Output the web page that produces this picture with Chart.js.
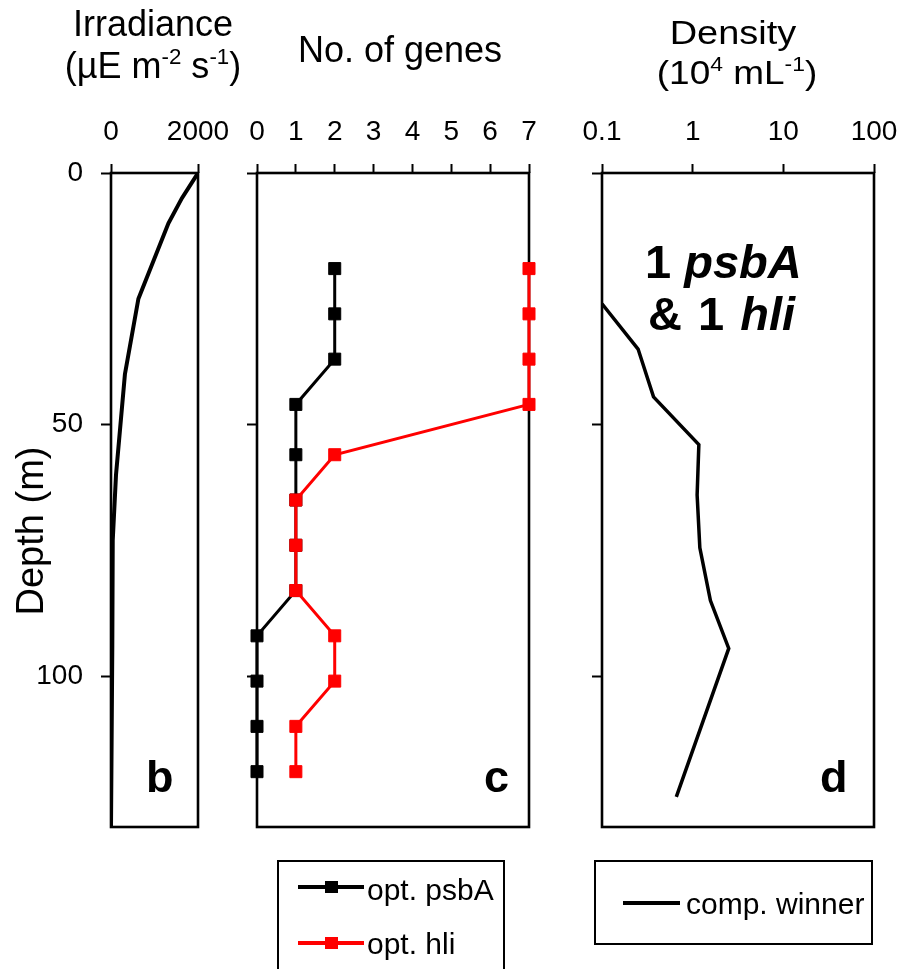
<!DOCTYPE html>
<html>
<head>
<meta charset="utf-8">
<script src="https://cdn.jsdelivr.net/npm/chart.js@4.4.0/dist/chart.umd.min.js"></script>
<style>
body{margin:0;background:#fff;}
#wrap{position:relative;width:907px;height:969px;overflow:hidden;background:#fff;
  font-family:"Liberation Sans",Arial,sans-serif;color:#000;}
#wrap canvas{position:absolute;left:0;top:0;}
.t{position:absolute;white-space:nowrap;line-height:1;}
.c{text-align:center;width:300px;}
sup{font-size:0.62em;position:relative;top:-0.62em;vertical-align:baseline;line-height:0;}
.lbl{font-weight:bold;font-size:45px;}
.lgbox{position:absolute;border:2px solid #000;box-sizing:border-box;}
.sample{position:absolute;height:4px;}
.sq{position:absolute;width:13px;height:12px;}
</style>
</head>
<body>
<div id="wrap">
  <canvas id="cb" width="907" height="969"></canvas>
  <canvas id="cc" width="907" height="969"></canvas>
  <canvas id="cd" width="915" height="969"></canvas>

  <div class="t c" style="left:3px;top:6px;font-size:36px;">Irradiance</div>
  <div class="t c" style="left:3px;top:48px;font-size:36px;">(&micro;E m<sup>-2</sup> s<sup>-1</sup>)</div>
  <div class="t c" style="left:250px;top:32px;font-size:36px;">No. of genes</div>
  <div class="t c" style="left:583px;top:16px;font-size:33px;transform:scaleX(1.15);">Density</div>
  <div class="t c" style="left:587px;top:56px;font-size:33px;transform:scaleX(1.12);">(10<sup>4</sup> mL<sup>-1</sup>)</div>
  <div class="t c" style="left:-120px;top:512px;font-size:38px;transform:rotate(-90deg);">Depth (m)</div>

  <div class="t lbl" style="left:645px;top:238px;font-size:47px;">1 <i>psbA</i></div>
  <div class="t lbl" style="left:648px;top:290px;font-size:47px;word-spacing:3px;">&amp; 1 <i>hli</i></div>
  <div class="t lbl" style="left:146px;top:754px;">b</div>
  <div class="t lbl" style="left:484px;top:754px;">c</div>
  <div class="t lbl" style="left:820px;top:754px;">d</div>

  <div class="lgbox" style="left:277px;top:860px;width:228px;height:130px;"></div>
  <div class="lgbox" style="left:594px;top:860px;width:279px;height:85px;"></div>
  <div id="legend"></div>
</div>

<script>
// depth axis (m), shared by all three panels
var depthTicks = [0, 50, 100];
var depthMax = 130;

// panel b: irradiance profile
var irrDepth = [0, 5, 10, 25, 40, 60, 73, 94, 130];
var irradiance = [2000, 1630, 1320, 630, 320, 115, 40, 30, 0];
var irrTicks = [0, 2000];

// panel c: number of genes
var geneDepth = [19, 28, 37, 46, 56, 65, 74, 83, 92, 101, 110, 119];
var psbA = [2, 2, 2, 1, 1, 1, 1, 1, 0, 0, 0, 0];
var hli = [7, 7, 7, 7, 2, 1, 1, 1, 2, 2, 1, 1];
var geneTicks = [0, 1, 2, 3, 4, 5, 6, 7];

// panel d: density of competition winner (10^4 per mL)
var densDepth = [26, 35, 44.5, 54, 64, 74.5, 85, 94.5, 124];
var density = [0.1, 0.25, 0.37, 1.17, 1.12, 1.2, 1.57, 2.5, 0.66];
var densTicks = [0.1, 1, 10, 100];

var TOP = 173, BOTTOM = 969 - 827;

function pts(xs, ys){
	var out = [];
	for (var i in ys) out.push({x: xs[i], y: ys[i]});
	return out;
}

var frame = {
	id: 'frame',
	beforeDatasetsDraw: function(chart){
		var a = chart.chartArea, ctx = chart.ctx;
		ctx.save();
		ctx.lineWidth = 2.6;
		ctx.strokeStyle = '#000';
		ctx.strokeRect(a.left, a.top, a.right - a.left, a.bottom - a.top);
		ctx.restore();
	}
};

function xAxis(type, min, max, ticks){
	return {
		type: type, position: 'top', min: min, max: max,
		afterFit: function(s){ s.height = TOP; },
		afterBuildTicks: function(s){ s.ticks = ticks.map(function(v){ return {value: v}; }); },
		border: {display: false},
		grid: {drawOnChartArea: false, drawTicks: true, tickLength: 9, tickWidth: 2, tickColor: '#000'},
		ticks: {color: '#000', font: {size: 28}, padding: 15, maxRotation: 0, autoSkip: false,
			callback: function(v){ return String(v); }}
	};
}

function yAxis(width, labels){
	return {
		type: 'linear', reverse: true, min: 0, max: depthMax,
		afterFit: function(s){ s.width = width; },
		afterBuildTicks: function(s){ s.ticks = depthTicks.map(function(v){ return {value: v}; }); },
		border: {display: false},
		grid: {drawOnChartArea: false, drawTicks: true, tickLength: 10, tickWidth: 2, tickColor: '#000'},
		ticks: {display: labels, color: '#000', font: {size: 28}, padding: 18,
			callback: function(v){ return String(v); }}
	};
}

function makeChart(id, datasets, x, y, padLeft, padRight){
	return new Chart(document.getElementById(id), {
		type: 'line',
		data: {datasets: datasets},
		options: {
			responsive: false, animation: false, indexAxis: 'y',
			layout: {padding: {left: padLeft, right: padRight, top: 0, bottom: BOTTOM}},
			plugins: {legend: {display: false}, tooltip: {enabled: false}},
			scales: {x: x, y: y}
		},
		plugins: [frame]
	});
}

Chart.defaults.font.family = '"Liberation Sans", Arial, sans-serif';

makeChart('cb', [{
	label: 'Irradiance', data: pts(irradiance, irrDepth),
	borderColor: '#000', borderWidth: 4, pointRadius: 0, tension: 0
}], xAxis('linear', 0, 2000, irrTicks), yAxis(111, true), 0, 907 - 198);

var geneSets = [
	{label: 'opt. psbA', data: pts(psbA, geneDepth), color: '#000000', order: 1},
	{label: 'opt. hli', data: pts(hli, geneDepth), color: '#ff0000', order: 0}
];
makeChart('cc', geneSets.map(function(d){
	return {label: d.label, data: d.data, order: d.order, borderColor: d.color, backgroundColor: d.color,
		borderWidth: 3, pointStyle: 'rect', pointRadius: 8.5, pointBorderWidth: 1,
		pointBorderColor: d.color, pointBackgroundColor: d.color, clip: false, tension: 0};
}), xAxis('linear', 0, 7, geneTicks), yAxis(47, false), 210, 907 - 529);

// canvas d is a little wider than the page so the "100" label fits without shrinking the plot
var densSets = [{label: 'comp. winner', data: pts(density, densDepth), color: '#000000'}];
makeChart('cd', densSets.map(function(d){
	return {label: d.label, data: d.data, borderColor: d.color, borderWidth: 3.5, pointRadius: 0, tension: 0};
}), xAxis('logarithmic', 0.1, 100, densTicks), yAxis(52, false), 550, 915 - 874);

// legends drawn from the dataset labels/colours
var lg = document.getElementById('legend');
function item(label, color, lineL, lineR, lineY, textL, textTop, marker){
	var s = '<div class="sample" style="left:' + lineL + 'px;width:' + (lineR - lineL) + 'px;top:' + (lineY - 2) + 'px;background:' + color + ';"></div>';
	if (marker) s += '<div class="sq" style="left:' + ((lineL + lineR) / 2 - 6.5) + 'px;top:' + (lineY - 6) + 'px;background:' + color + ';"></div>';
	s += '<div class="t" style="left:' + textL + 'px;top:' + textTop + 'px;font-size:30px;">' + label + '</div>';
	return s;
}
var html = '';
html += item(geneSets[0].label, geneSets[0].color, 298, 364, 887, 367, 875, true);
html += item(geneSets[1].label, geneSets[1].color, 298, 364, 943, 367, 929, true);
html += item(densSets[0].label, densSets[0].color, 623, 680, 903, 686, 889, false);
lg.innerHTML = html;
</script>
</body>
</html>
